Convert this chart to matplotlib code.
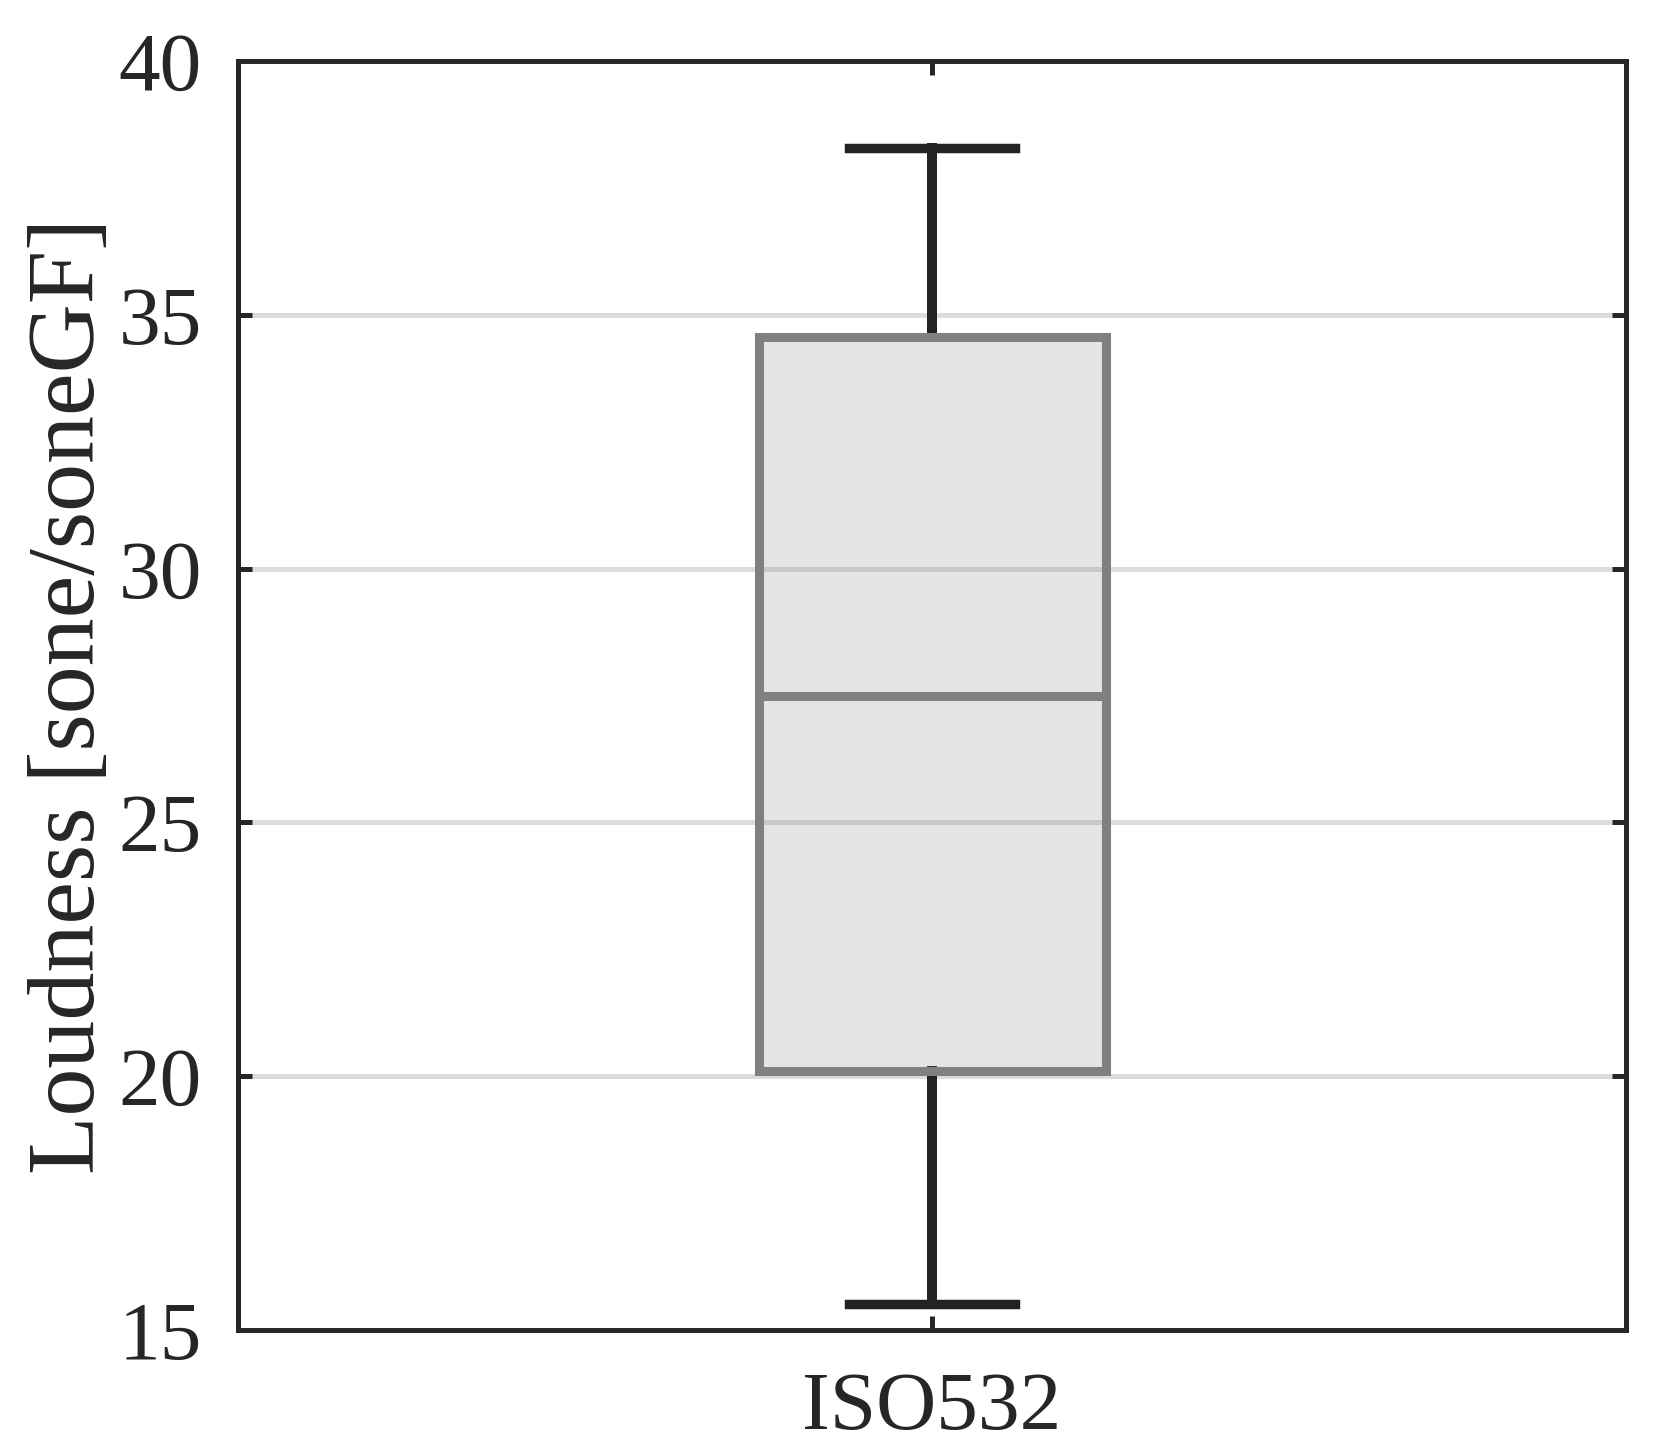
import matplotlib
matplotlib.use("Agg")
import matplotlib.pyplot as plt

# box statistics
labels = ["ISO532"]
whislo = [15.52]
q1 = [20.1]
med = [27.5]
q3 = [34.56]
whishi = [38.28]
yticks = [15, 20, 25, 30, 35, 40]

dark = "#262626"
plt.rcParams["font.family"] = ["Liberation Serif", "DejaVu Serif"]

fig = plt.figure(figsize=(16.55, 14.56), dpi=100)
ax = fig.add_axes([0.1438, 0.0865, 0.8387, 0.8715])

stats = [{"label": labels[i], "whislo": whislo[i], "q1": q1[i], "med": med[i],
          "q3": q3[i], "whishi": whishi[i], "fliers": []} for i in range(len(labels))]

ax.bxp(stats, positions=[1], widths=0.5, patch_artist=True, showfliers=False,
       boxprops=dict(facecolor=(0.5, 0.5, 0.5, 0.2), edgecolor="#808080", linewidth=6.5, zorder=3),
       medianprops=dict(color="#808080", linewidth=6.5, zorder=4),
       whiskerprops=dict(color="#232323", linewidth=7.2, zorder=2.5),
       capprops=dict(color="#232323", linewidth=6.8, zorder=2.5),
       capwidths=0.24)

ax.set_xlim(0, 2)
ax.set_ylim(15, 40)
ax.set_yticks(yticks)
ax.yaxis.grid(True, color="#dcdcdc", linewidth=3.6, zorder=1)
ax.set_axisbelow(True)

for s in ax.spines.values():
    s.set_color(dark)
    s.set_linewidth(3.6)

ax.tick_params(axis="both", direction="in", length=10, width=3.6, color=dark,
               labelsize=60, labelcolor=dark)
ax.tick_params(axis="y", right=True, pad=26)
ax.tick_params(axis="x", top=True, pad=30)

# the original face is wider than Liberation Serif, so the label is set a bit larger
ax.set_ylabel("Loudness [sone/soneGF]", fontsize=69, color=dark, labelpad=3)

fig.savefig("out.png", dpi=100)
